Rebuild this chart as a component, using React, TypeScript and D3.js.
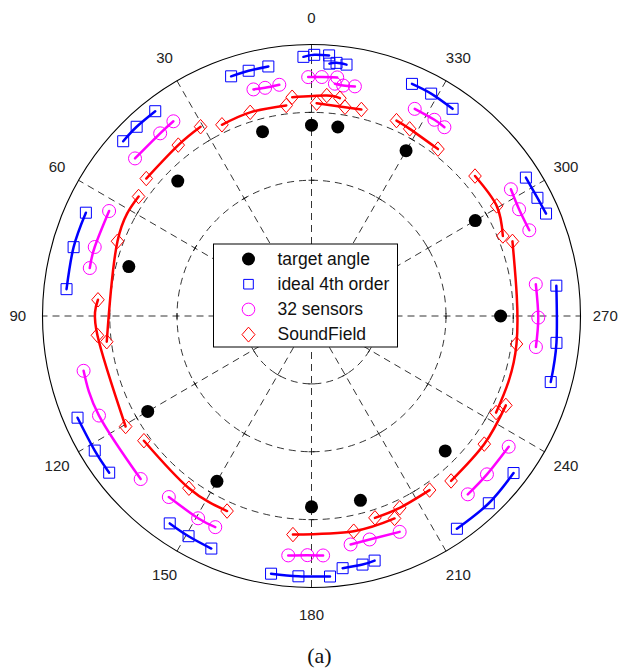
import React, { useEffect, useRef } from 'react'
import * as d3 from 'd3'

// [angle in degrees (0 at top, counter-clockwise), radius]
type Pt = [number, number]

const angleTicks = [0, 30, 60, 90, 120, 150, 180, 210, 240, 270, 300, 330]
const ringTicks = [0.25, 0.5, 0.75, 1]

const targetAngles = [0, 15, 45, 75, 120, 150, 180, 195, 225, 270, 300, 330, 352]
const targetRadius = 0.703

const ideal4th: Pt[][] = [
  [[1.8, 0.955], [-0.6, 0.962], [-3.9, 0.962]],
  [[-4.1, 0.932], [-5.7, 0.937], [-8.0, 0.935]],
  [[18.7, 0.932], [14.5, 0.933], [9.9, 0.933]],
  [[47.4, 0.951], [43.0, 0.953], [37.6, 0.952]],
  [[65.6, 0.921], [74.0, 0.92], [83.8, 0.916]],
  [[113.3, 0.947], [121.6, 0.946], [127.5, 0.948]],
  [[145.4, 0.928], [150.6, 0.931], [156.5, 0.934]],
  [[171.0, 0.961], [177.1, 0.96], [184.1, 0.962]],
  [[187.1, 0.936], [191.7, 0.935], [194.6, 0.931]],
  [[214.6, 0.952], [223.7, 0.954], [232.4, 0.948]],
  [[277.0, 0.917], [263.8, 0.916], [254.7, 0.922]],
  [[302.6, 0.946], [297.4, 0.946], [293.4, 0.95]],
  [[336.4, 0.933], [331.5, 0.932], [325.5, 0.926]],
]

const sensors32: Pt[][] = [
  [[0.8, 0.88], [-2.5, 0.881], [-6.2, 0.884]],
  [[-5.8, 0.86], [-7.9, 0.857], [-10.8, 0.861]],
  [[14.5, 0.862], [11.6, 0.858], [8.0, 0.86]],
  [[48.5, 0.876], [39.9, 0.877], [35.6, 0.882]],
  [[62.8, 0.846], [72.5, 0.845], [77.9, 0.843]],
  [[103.4, 0.871], [114.9, 0.871], [133.4, 0.874]],
  [[141.5, 0.852], [150.5, 0.856], [155.3, 0.856]],
  [[174.4, 0.886], [179.0, 0.881], [182.8, 0.883]],
  [[189.8, 0.854], [194.7, 0.851], [202.4, 0.86]],
  [[221.5, 0.877], [228.2, 0.875], [236.7, 0.877]],
  [[278.0, 0.842], [269.6, 0.843], [262.2, 0.842]],
  [[302.2, 0.876], [297.0, 0.866], [291.3, 0.869]],
  [[333.3, 0.854], [327.7, 0.855], [324.6, 0.853]],
]

const soundField: Pt[][] = [
  [[5.1, 0.809], [-4.0, 0.814], [-7.5, 0.809]],
  [[-1.4, 0.784], [-9.2, 0.779], [-13.7, 0.783]],
  [[25.3, 0.779], [16.9, 0.784], [6.9, 0.781]],
  [[50.5, 0.796], [38.2, 0.801], [30.6, 0.81]],
  [[55.6, 0.779], [69.1, 0.772], [97.1, 0.767]],
  [[85.7, 0.796], [95.1, 0.799], [120.5, 0.802]],
  [[126.4, 0.774], [144.3, 0.781], [156.4, 0.784]],
  [[175.1, 0.808], [191.2, 0.808], [202.5, 0.807]],
  [[197.6, 0.78], [204.9, 0.779], [214.4, 0.777]],
  [[245.5, 0.794], [233.7, 0.797], [220.5, 0.799]],
  [[290.2, 0.796], [262.3, 0.769], [242.6, 0.773]],
  [[310.3, 0.797], [300.5, 0.799], [292.5, 0.77]],
  [[336.3, 0.786], [332.1, 0.78], [322.6, 0.774]],
]

const legendLabels = ['target angle', 'ideal 4th order', '32 sensors', 'SoundField']

const BLUE = '#0000ff'
const MAGENTA = '#ff00ff'
const RED = '#ff0000'

function markerPath(kind: string, s: number) {
  if (kind === 'square') return `M${-s},${-s}H${s}V${s}H${-s}Z`
  if (kind === 'diamond') return `M0,${-s * 1.15}L${s},0L0,${s * 1.15}L${-s},0Z`
  return d3.arc()({ innerRadius: 0, outerRadius: s, startAngle: 0, endAngle: 2 * Math.PI }) as string
}

export default function App() {
  const svgRef = useRef<SVGSVGElement>(null)

  useEffect(() => {
    if (!svgRef.current) return
    const svg = d3.select(svgRef.current)
    svg.selectAll('*').remove()

    const cx = 311.5
    const cy = 316
    const rx = d3.scaleLinear().domain([0, 1]).range([0, 269])
    const ry = d3.scaleLinear().domain([0, 1]).range([0, 271.5])
    const rad = (deg: number) => (deg * Math.PI) / 180
    const px = (a: number, r: number) => cx - rx(r) * Math.sin(rad(a))
    const py = (a: number, r: number) => cy - ry(r) * Math.cos(rad(a))

    const grid = svg.append('g')

    grid
      .selectAll('line.spoke')
      .data(angleTicks)
      .join('line')
      .attr('class', 'spoke')
      .attr('x1', cx)
      .attr('y1', cy)
      .attr('x2', (a) => px(a, 1))
      .attr('y2', (a) => py(a, 1))
      .attr('stroke', '#000')
      .attr('stroke-width', 0.8)
      .attr('stroke-dasharray', '7,5')

    grid
      .selectAll('ellipse.ring')
      .data(ringTicks)
      .join('ellipse')
      .attr('class', 'ring')
      .attr('cx', cx)
      .attr('cy', cy)
      .attr('rx', (d) => rx(d))
      .attr('ry', (d) => ry(d))
      .attr('fill', 'none')
      .attr('stroke', '#000')
      .attr('stroke-width', (d) => (d === 1 ? 1.1 : 0.8))
      .attr('stroke-dasharray', (d) => (d === 1 ? null : '7,5'))

    // small ticks where spokes cross the inner rings
    const crossings = angleTicks.flatMap((a) => ringTicks.slice(0, 3).map((r) => ({ a, r })))
    grid
      .selectAll('line.tick')
      .data(crossings)
      .join('line')
      .attr('class', 'tick')
      .attr('x1', (d) => px(d.a, d.r) - 3 * Math.cos(rad(d.a)))
      .attr('y1', (d) => py(d.a, d.r) + 3 * Math.sin(rad(d.a)))
      .attr('x2', (d) => px(d.a, d.r) + 3 * Math.cos(rad(d.a)))
      .attr('y2', (d) => py(d.a, d.r) - 3 * Math.sin(rad(d.a)))
      .attr('stroke', '#000')
      .attr('stroke-width', 0.8)

    grid
      .selectAll('text.alabel')
      .data(angleTicks)
      .join('text')
      .attr('class', 'alabel')
      .attr('x', (a) => px(a, 1.092))
      .attr('y', (a) => py(a, 1.1))
      .attr('dy', '0.35em')
      .attr('text-anchor', 'middle')
      .attr('font-family', '"Liberation Sans", Arial, sans-serif')
      .attr('font-size', '15px')
      .attr('fill', '#222')
      .text((a) => String(a))

    const plot = svg.append('g')

    plot
      .selectAll('circle.target')
      .data(targetAngles)
      .join('circle')
      .attr('class', 'target')
      .attr('cx', (a) => px(a, targetRadius))
      .attr('cy', (a) => py(a, targetRadius))
      .attr('r', 6.5)
      .attr('fill', '#000')

    const line = d3
      .line<Pt>()
      .x((d) => px(d[0], d[1]))
      .y((d) => py(d[0], d[1]))
      .curve(d3.curveNatural)

    const seriesList = [
      { groups: ideal4th, color: BLUE, marker: 'square', size: 5.5 },
      { groups: sensors32, color: MAGENTA, marker: 'circle', size: 6.5 },
      { groups: soundField, color: RED, marker: 'diamond', size: 6.3 },
    ]

    seriesList.forEach((s) => {
      const g = plot.append('g')
      g.selectAll('path.trace')
        .data(s.groups)
        .join('path')
        .attr('class', 'trace')
        .attr('d', line)
        .attr('fill', 'none')
        .attr('stroke', s.color)
        .attr('stroke-width', 2.5)
        .attr('stroke-linecap', 'round')
      g.selectAll('path.mk')
        .data(s.groups.flat())
        .join('path')
        .attr('class', 'mk')
        .attr('transform', (d) => `translate(${px(d[0], d[1])},${py(d[0], d[1])})`)
        .attr('d', markerPath(s.marker, s.size))
        .attr('fill', 'none')
        .attr('stroke', s.color)
        .attr('stroke-width', 1)
    })

    // legend
    const legend = svg.append('g').attr('transform', 'translate(213.5,244)')
    legend
      .append('rect')
      .attr('width', 184)
      .attr('height', 103)
      .attr('fill', '#fff')
      .attr('stroke', '#000')
      .attr('stroke-width', 1)

    const legendMarks = [
      { kind: 'dot', color: '#000', size: 6.5 },
      { kind: 'square', color: BLUE, size: 4.8 },
      { kind: 'circle', color: MAGENTA, size: 6.3 },
      { kind: 'diamond', color: RED, size: 6.5 },
    ]

    legend
      .selectAll('g.item')
      .data(legendLabels)
      .join('g')
      .attr('class', 'item')
      .attr('transform', (d, i) => `translate(0,${15 + i * 25.2})`)
      .each(function (d, i) {
        const item = d3.select(this)
        const m = legendMarks[i]
        if (m.kind === 'dot') {
          item.append('circle').attr('cx', 35).attr('cy', 0).attr('r', m.size).attr('fill', m.color)
        } else {
          item
            .append('path')
            .attr('transform', 'translate(35,0)')
            .attr('d', markerPath(m.kind, m.size))
            .attr('fill', 'none')
            .attr('stroke', m.color)
            .attr('stroke-width', 1)
        }
        item
          .append('text')
          .attr('x', 64)
          .attr('y', 0)
          .attr('dy', '0.32em')
          .attr('font-family', '"Liberation Sans", Arial, sans-serif')
          .attr('font-size', '17.5px')
          .attr('fill', '#111')
          .text(d)
      })

    svg
      .append('text')
      .attr('x', 319.5)
      .attr('y', 663)
      .attr('text-anchor', 'middle')
      .attr('font-family', '"Liberation Serif", "Times New Roman", serif')
      .attr('font-size', '22px')
      .attr('fill', '#111')
      .text('(a)')
  }, [])

  return (
    <svg
      ref={svgRef}
      width={618}
      height={671}
      style={{ position: 'absolute', left: 0, top: 0, background: '#fff' }}
    />
  )
}
